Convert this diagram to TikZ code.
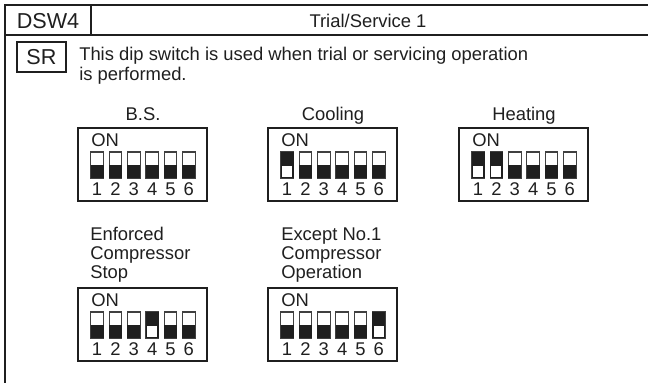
\documentclass[tikz,border=0pt]{standalone}
\usepackage{fontspec}
\setmainfont{Liberation Sans}
\tikzset{x=0.75pt,y=-0.75pt,
  frameline/.style={draw=black!88,line width=1.8pt},
  boxline/.style={draw=black!88,line width=1.5pt},
  txt/.style={font=\fontsize{13.8}{16}\selectfont,text=black!88,inner sep=0pt,anchor=base west},
  ctxt/.style={font=\fontsize{13.8}{16}\selectfont,text=black!88,inner sep=0pt,anchor=base},
  bigtxt/.style={font=\fontsize{16.2}{18}\selectfont,text=black!88,inner sep=0pt,anchor=base},
}
% #1 left x, #2 top y, #3 comma list of switches that are ON
\newcommand{\dipbox}[3]{%
  \draw[boxline] (#1,#2) rectangle ++(129,73);
  \node[txt] at (#1+13,#2+18) {ON};
  \foreach \n in {1,...,6}{
    \pgfmathsetmacro{\sx}{#1+12.8+(\n-1)*18.35}
    \draw[draw=black!75,line width=0.9pt,fill=white] (\sx,#2+24) rectangle ++(12.6,26);
    \fill[black!88] (\sx-0.3,#2+36.5) rectangle ++(13.2,13.8);
    \node[ctxt] at (\sx+6.3,#2+67.5) {\n};
  }
  \foreach \n in {#3}{
    \ifnum\n>0
    \pgfmathsetmacro{\sx}{#1+12.8+(\n-1)*18.35}
    \fill[black!88] (\sx-0.3,#2+23.7) rectangle ++(13.2,26.6);
    \fill[white] (\sx+1.3,#2+38) rectangle ++(10,10.6);
    \fi
  }
}
\begin{document}
\begin{tikzpicture}
\useasboundingbox (0,0) rectangle (648,383);
\draw[frameline] (648,5) -- (5,5) -- (5,383);
\draw[frameline] (5,35) -- (648,35);
\draw[frameline] (91,5) -- (91,35);
\node[bigtxt] at (48,28) {DSW4};
\node[ctxt] at (368,27) {Trial/Service 1};
\draw[boxline] (17,42) rectangle (66,72);
\node[bigtxt] at (41.5,64.5) {SR};
\node[txt] at (79,60) {This dip switch is used when trial or servicing operation};
\node[txt] at (79,80) {is performed.};
\node[ctxt] at (143,120) {B.S.};
\node[ctxt] at (333,120) {Cooling};
\node[ctxt] at (524,120) {Heating};
\dipbox{78}{128}{0}
\dipbox{268}{128}{1}
\dipbox{459}{128}{1,2}
\node[txt] at (90,240) {Enforced};
\node[txt] at (90,259) {Compressor};
\node[txt] at (90,278) {Stop};
\node[txt] at (281,240) {Except No.1};
\node[txt] at (281,259) {Compressor};
\node[txt] at (281,278) {Operation};
\dipbox{78}{288}{4}
\dipbox{268}{288}{6}
\end{tikzpicture}
\end{document}
